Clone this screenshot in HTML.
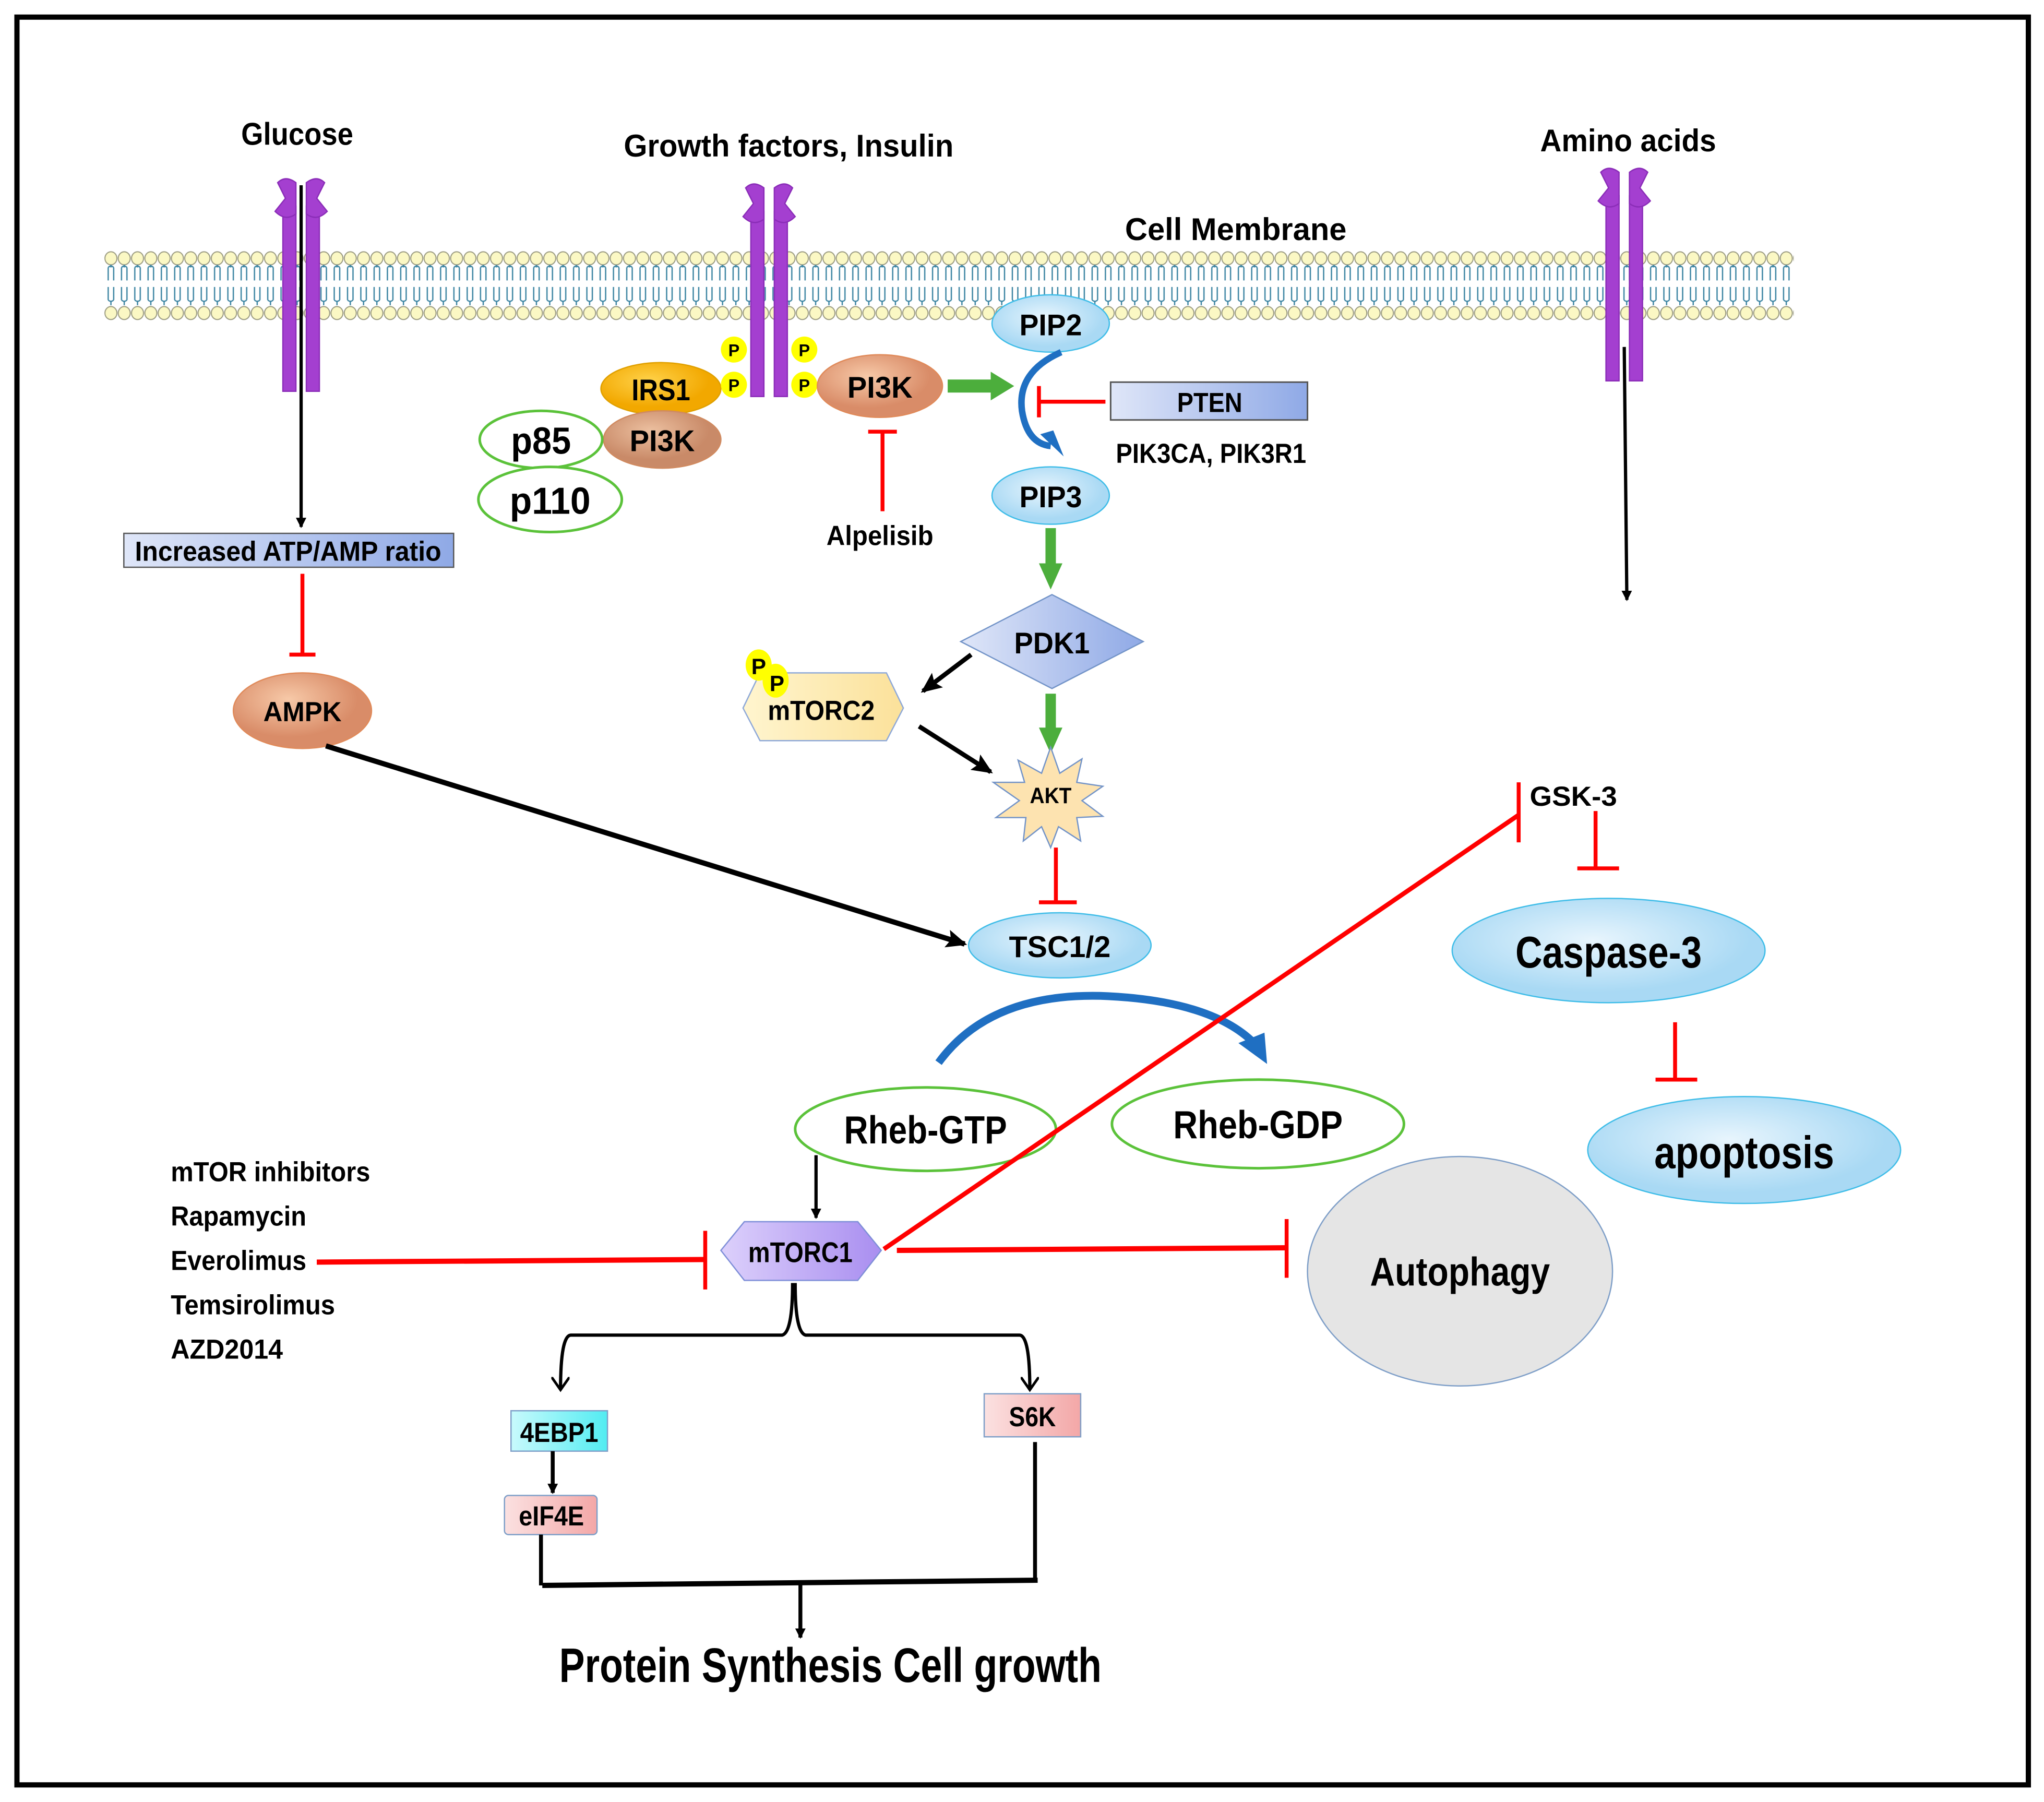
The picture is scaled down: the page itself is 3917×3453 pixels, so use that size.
<!DOCTYPE html>
<html><head><meta charset="utf-8"><style>
html,body{margin:0;padding:0;background:#fff}
svg{display:block}
text{font-family:"Liberation Sans",sans-serif;font-weight:bold;fill:#000;text-anchor:middle}
</style></head><body>
<svg width="3917" height="3453" viewBox="0 0 1568 1382" xmlns="http://www.w3.org/2000/svg">
<defs>
<pattern id="lip" x="80" y="190" width="10.2" height="60" patternUnits="userSpaceOnUse">
<ellipse cx="5.1" cy="8" rx="4.6" ry="5" fill="#fbf8c4" stroke="#9a9a80" stroke-width="0.8"/>
<path d="M5.1 13 L5.1 15 M3 15 V25 M7.2 15 V25 M3 15 Q5.1 13 7.2 15" stroke="#3e86a3" stroke-width="1" fill="none"/>
<path d="M3 30 V40 M7.2 30 V40 M3 40 Q5.1 42 7.2 40 M5.1 41 V44" stroke="#3e86a3" stroke-width="1" fill="none"/>
<ellipse cx="5.1" cy="50" rx="4.6" ry="5" fill="#fbf8c4" stroke="#9a9a80" stroke-width="0.8"/>
</pattern>
<g id="rec" fill="#a43fd0" stroke="#8b2db8" stroke-width="1">
<rect x="-14" y="18" width="10" height="142"/>
<rect x="4" y="18" width="10" height="142"/>
<path d="M-4 0 Q-12 -6 -18 0 L-12 12 L-20 22 Q-12 30 -4 24 Z"/>
<path d="M4 0 Q12 -6 18 0 L12 12 L20 22 Q12 30 4 24 Z"/>
</g>
<linearGradient id="gblue" x1="0" x2="1"><stop offset="0" stop-color="#dfe6f8"/><stop offset="1" stop-color="#8fa9e6"/></linearGradient>
<radialGradient id="gsal" cx="0.4" cy="0.35"><stop offset="0" stop-color="#f7c9a8"/><stop offset="1" stop-color="#d98c68"/></radialGradient>
<radialGradient id="gbrown" cx="0.4" cy="0.35"><stop offset="0" stop-color="#ecc0a0"/><stop offset="1" stop-color="#c98a68"/></radialGradient>
<radialGradient id="gorange" cx="0.4" cy="0.35"><stop offset="0" stop-color="#ffd24a"/><stop offset="1" stop-color="#f2a800"/></radialGradient>
<radialGradient id="glb" cx="0.45" cy="0.4"><stop offset="0" stop-color="#e8f5fd"/><stop offset="1" stop-color="#a9d9f4"/></radialGradient>
<linearGradient id="gyel" x1="0" x2="1"><stop offset="0" stop-color="#fff5cf"/><stop offset="1" stop-color="#fbe19a"/></linearGradient>
<linearGradient id="gpur" x1="0" x2="1"><stop offset="0" stop-color="#dcd0fb"/><stop offset="1" stop-color="#a98ef0"/></linearGradient>
<linearGradient id="gcyan" x1="0" x2="1"><stop offset="0" stop-color="#c8fafc"/><stop offset="1" stop-color="#52ecf2"/></linearGradient>
<linearGradient id="gpink" x1="0" x2="1"><stop offset="0" stop-color="#fbe1e1"/><stop offset="1" stop-color="#f3a7a7"/></linearGradient>
<marker id="ab" markerWidth="8" markerHeight="8" refX="7" refY="4" orient="auto" markerUnits="userSpaceOnUse"><path d="M0 0 L8 4 L0 8 z" fill="#000"/></marker>
<marker id="ab2" markerWidth="16" markerHeight="14" refX="14" refY="7" orient="auto" markerUnits="userSpaceOnUse"><path d="M0 0 L16 7 L0 14 L3 7 z" fill="#000"/></marker>
<marker id="av" markerWidth="12" markerHeight="14" refX="10" refY="7" orient="auto" markerUnits="userSpaceOnUse"><path d="M0 0 L10 7 L0 14" fill="none" stroke="#000" stroke-width="2"/></marker>
</defs>
<rect x="0" y="0" width="1568" height="1382" fill="#fff"/>
<rect x="13" y="13" width="1543" height="1356" fill="none" stroke="#000" stroke-width="4"/>

<rect x="80" y="190" width="1296" height="60" fill="url(#lip)"/>

<use href="#rec" x="231" y="140"/>
<use href="#rec" x="590" y="144"/>
<use href="#rec" x="1246" y="132"/>

<text x="228" y="111" font-size="24" textLength="86" lengthAdjust="spacingAndGlyphs">Glucose</text>
<text x="605" y="120" font-size="24" textLength="253" lengthAdjust="spacingAndGlyphs">Growth factors, Insulin</text>
<text x="1249" y="116" font-size="24" textLength="135" lengthAdjust="spacingAndGlyphs">Amino acids</text>
<text x="948" y="184" font-size="24" textLength="170" lengthAdjust="spacingAndGlyphs">Cell Membrane</text>

<line x1="231" y1="142" x2="231" y2="404" stroke="#000" stroke-width="2.5" marker-end="url(#ab)"/>
<rect x="95" y="409" width="253" height="26" fill="url(#gblue)" stroke="#555" stroke-width="1"/>
<text x="221" y="430" font-size="21" textLength="235" lengthAdjust="spacingAndGlyphs">Increased ATP/AMP ratio</text>
<line x1="232" y1="440" x2="232" y2="502" stroke="#f00" stroke-width="3"/>
<line x1="222" y1="502" x2="242" y2="502" stroke="#f00" stroke-width="3"/>
<ellipse cx="232" cy="545" rx="53" ry="29" fill="url(#gsal)" stroke="#e08a5a" stroke-width="1"/>
<text x="232" y="553" font-size="21" textLength="60" lengthAdjust="spacingAndGlyphs">AMPK</text>
<line x1="250" y1="572" x2="740" y2="724" stroke="#000" stroke-width="4" marker-end="url(#ab2)"/>

<ellipse cx="507" cy="298" rx="46" ry="20" fill="url(#gorange)" stroke="#e0a000"/>
<text x="507" y="307" font-size="23" textLength="45" lengthAdjust="spacingAndGlyphs">IRS1</text>
<ellipse cx="508" cy="337" rx="45" ry="22" fill="url(#gbrown)" stroke="#d08a60"/>
<text x="508" y="346" font-size="23" textLength="50" lengthAdjust="spacingAndGlyphs">PI3K</text>
<ellipse cx="415" cy="337" rx="47" ry="22" fill="#fff" stroke="#5bc23a" stroke-width="2"/>
<text x="415" y="348" font-size="29" textLength="46" lengthAdjust="spacingAndGlyphs">p85</text>
<ellipse cx="422" cy="383" rx="55" ry="25" fill="#fff" stroke="#5bc23a" stroke-width="2"/>
<text x="422" y="394" font-size="29" textLength="62" lengthAdjust="spacingAndGlyphs">p110</text>
<g fill="#ffff00"><circle cx="563" cy="268" r="10"/><circle cx="563" cy="295" r="10"/><circle cx="617" cy="268" r="10"/><circle cx="617" cy="295" r="10"/></g>
<g font-size="13"><text x="563" y="273">P</text><text x="563" y="300">P</text><text x="617" y="273">P</text><text x="617" y="300">P</text></g>
<ellipse cx="675" cy="296" rx="48" ry="24" fill="url(#gsal)" stroke="#e08a5a"/>
<text x="675" y="305" font-size="23" textLength="50" lengthAdjust="spacingAndGlyphs">PI3K</text>
<path d="M727 291 H760 V285 L778 296 L760 307 V301 H727 Z" fill="#4cae3c"/>
<line x1="677" y1="331" x2="677" y2="392" stroke="#f00" stroke-width="3"/>
<line x1="666" y1="331" x2="688" y2="331" stroke="#f00" stroke-width="3"/>
<text x="675" y="418" font-size="21" textLength="82" lengthAdjust="spacingAndGlyphs">Alpelisib</text>

<ellipse cx="806" cy="248" rx="45" ry="22" fill="url(#glb)" stroke="#3fbde8" stroke-width="1"/>
<text x="806" y="257" font-size="23" textLength="48" lengthAdjust="spacingAndGlyphs">PIP2</text>
<path d="M814 270 Q780 285 784 315 Q788 340 806 342" fill="none" stroke="#1f6fc2" stroke-width="5"/>
<path d="M798 333 L816 350 L808 330 z" fill="#1f6fc2"/>
<line x1="848" y1="308" x2="797" y2="308" stroke="#f00" stroke-width="3"/>
<line x1="797" y1="296" x2="797" y2="320" stroke="#f00" stroke-width="3"/>
<rect x="852" y="293" width="151" height="29" fill="url(#gblue)" stroke="#555" stroke-width="1.2"/>
<text x="928" y="316" font-size="21" textLength="50" lengthAdjust="spacingAndGlyphs">PTEN</text>
<text x="929" y="355" font-size="21" textLength="146" lengthAdjust="spacingAndGlyphs">PIK3CA, PIK3R1</text>
<ellipse cx="806" cy="380" rx="45" ry="22" fill="url(#glb)" stroke="#3fbde8" stroke-width="1"/>
<text x="806" y="389" font-size="23" textLength="48" lengthAdjust="spacingAndGlyphs">PIP3</text>
<path d="M802 405 H810 V432 H815 L806 452 L797 432 H802 Z" fill="#4cae3c"/>

<path d="M807 456 L877 492 L807 528 L737 492 Z" fill="url(#gblue)" stroke="#7394c8" stroke-width="1"/>
<text x="807" y="501" font-size="23" textLength="58" lengthAdjust="spacingAndGlyphs">PDK1</text>
<path d="M802 532 H810 V558 H815 L806 578 L797 558 H802 Z" fill="#4cae3c"/>
<line x1="745" y1="502" x2="708" y2="530" stroke="#000" stroke-width="3.5" marker-end="url(#ab2)"/>
<path d="M583 516 H680 L693 543 L680 568 H583 L570 543 Z" fill="url(#gyel)" stroke="#8fa9d8" stroke-width="1"/>
<text x="630" y="552" font-size="21" textLength="82" lengthAdjust="spacingAndGlyphs">mTORC2</text>
<ellipse cx="582" cy="510" rx="10" ry="12" fill="#ffff00"/>
<ellipse cx="595" cy="522" rx="10" ry="13" fill="#ffff00"/>
<text x="582" y="517" font-size="17">P</text><text x="596" y="530" font-size="17">P</text>
<line x1="705" y1="557" x2="760" y2="592" stroke="#000" stroke-width="3.5" marker-end="url(#ab2)"/>

<polygon points="806,573 813,593 830,582 826,600 846,603 830,614 846,626 826,627 829,645 812,634 806,650 799,634 785,645 787,627 764,627 782,614 762,600 786,600 781,583 799,593" fill="#fde3b0" stroke="#7394c8" stroke-width="1"/>
<text x="806" y="616" font-size="17" textLength="32" lengthAdjust="spacingAndGlyphs">AKT</text>
<line x1="810" y1="650" x2="810" y2="692" stroke="#f00" stroke-width="3"/>
<line x1="797" y1="692" x2="826" y2="692" stroke="#f00" stroke-width="3"/>
<ellipse cx="813" cy="725" rx="70" ry="25" fill="url(#glb)" stroke="#3fbde8" stroke-width="1"/>
<text x="813" y="734" font-size="23" textLength="78" lengthAdjust="spacingAndGlyphs">TSC1/2</text>

<path d="M720 815 Q760 760 850 764 Q930 768 962 800" fill="none" stroke="#1f6fc2" stroke-width="6"/>
<path d="M950 800 L972 816 L970 792 z" fill="#1f6fc2"/>
<ellipse cx="710" cy="866" rx="100" ry="32" fill="#fff" stroke="#5bc23a" stroke-width="2"/>
<text x="710" y="877" font-size="30" textLength="125" lengthAdjust="spacingAndGlyphs">Rheb-GTP</text>
<ellipse cx="965" cy="862" rx="112" ry="34" fill="#fff" stroke="#5bc23a" stroke-width="2"/>
<text x="965" y="873" font-size="30" textLength="130" lengthAdjust="spacingAndGlyphs">Rheb-GDP</text>
<line x1="626" y1="886" x2="626" y2="934" stroke="#000" stroke-width="2.5" marker-end="url(#ab)"/>

<line x1="678" y1="958" x2="1165" y2="625" stroke="#f00" stroke-width="3.5"/>
<line x1="1165" y1="600" x2="1165" y2="646" stroke="#f00" stroke-width="3"/>
<text x="1207" y="618" font-size="21" textLength="67" lengthAdjust="spacingAndGlyphs">GSK-3</text>
<line x1="1224" y1="622" x2="1224" y2="666" stroke="#f00" stroke-width="3"/>
<line x1="1210" y1="666" x2="1242" y2="666" stroke="#f00" stroke-width="3"/>
<ellipse cx="1234" cy="729" rx="120" ry="40" fill="url(#glb)" stroke="#3fbde8" stroke-width="1"/>
<text x="1234" y="742" font-size="34" textLength="143" lengthAdjust="spacingAndGlyphs">Caspase-3</text>
<line x1="1285" y1="784" x2="1285" y2="828" stroke="#f00" stroke-width="3"/>
<line x1="1270" y1="828" x2="1302" y2="828" stroke="#f00" stroke-width="3"/>
<ellipse cx="1338" cy="882" rx="120" ry="41" fill="url(#glb)" stroke="#3fbde8" stroke-width="1"/>
<text x="1338" y="896" font-size="35" textLength="138" lengthAdjust="spacingAndGlyphs">apoptosis</text>
<ellipse cx="1120" cy="975" rx="117" ry="88" fill="#e5e5e5" stroke="#7f9fc8" stroke-width="1"/>
<text x="1120" y="986" font-size="31" textLength="138" lengthAdjust="spacingAndGlyphs">Autophagy</text>

<line x1="1246" y1="266" x2="1248" y2="460" stroke="#000" stroke-width="2.5" marker-end="url(#ab)"/>

<path d="M571 937 H658 L676 959 L658 982 H571 L553 959 Z" fill="url(#gpur)" stroke="#7f8fd8" stroke-width="1"/>
<text x="614" y="968" font-size="22" textLength="80" lengthAdjust="spacingAndGlyphs">mTORC1</text>
<line x1="243" y1="968" x2="540" y2="966" stroke="#f00" stroke-width="4"/>
<line x1="541" y1="944" x2="541" y2="989" stroke="#f00" stroke-width="3"/>
<line x1="688" y1="959" x2="986" y2="957" stroke="#f00" stroke-width="4"/>
<line x1="987" y1="935" x2="987" y2="980" stroke="#f00" stroke-width="3"/>
<g font-size="21">
<text x="131" y="906" style="text-anchor:start" textLength="153" lengthAdjust="spacingAndGlyphs">mTOR inhibitors</text>
<text x="131" y="940" style="text-anchor:start" textLength="104" lengthAdjust="spacingAndGlyphs">Rapamycin</text>
<text x="131" y="974" style="text-anchor:start" textLength="104" lengthAdjust="spacingAndGlyphs">Everolimus</text>
<text x="131" y="1008" style="text-anchor:start" textLength="126" lengthAdjust="spacingAndGlyphs">Temsirolimus</text>
<text x="131" y="1042" style="text-anchor:start" textLength="86" lengthAdjust="spacingAndGlyphs">AZD2014</text>
</g>

<path d="M608 984 Q608 1022 600 1024 H438 Q430 1024 430 1066" fill="none" stroke="#000" stroke-width="2.5" marker-end="url(#av)"/>
<path d="M610 984 Q610 1022 618 1024 H782 Q790 1024 790 1066" fill="none" stroke="#000" stroke-width="2.5" marker-end="url(#av)"/>
<rect x="392" y="1082" width="74" height="31" fill="url(#gcyan)" stroke="#7f9fc8" stroke-width="1"/>
<text x="429" y="1106" font-size="21" textLength="60" lengthAdjust="spacingAndGlyphs">4EBP1</text>
<line x1="424" y1="1113" x2="424" y2="1145" stroke="#000" stroke-width="3" marker-end="url(#ab)"/>
<rect x="387" y="1147" width="71" height="30" rx="3" fill="url(#gpink)" stroke="#7f9fc8" stroke-width="1"/>
<text x="423" y="1170" font-size="21" textLength="50" lengthAdjust="spacingAndGlyphs">eIF4E</text>
<rect x="755" y="1069" width="74" height="33" fill="url(#gpink)" stroke="#7f9fc8" stroke-width="1"/>
<text x="792" y="1094" font-size="21" textLength="36" lengthAdjust="spacingAndGlyphs">S6K</text>
<line x1="415" y1="1177" x2="415" y2="1216" stroke="#000" stroke-width="3"/>
<line x1="794" y1="1106" x2="794" y2="1214" stroke="#000" stroke-width="3"/>
<line x1="416" y1="1216" x2="796" y2="1212" stroke="#000" stroke-width="4"/>
<line x1="614" y1="1214" x2="614" y2="1256" stroke="#000" stroke-width="3" marker-end="url(#ab)"/>
<text x="637" y="1290" font-size="37" textLength="416" lengthAdjust="spacingAndGlyphs">Protein Synthesis Cell growth</text>
</svg>
</body></html>
